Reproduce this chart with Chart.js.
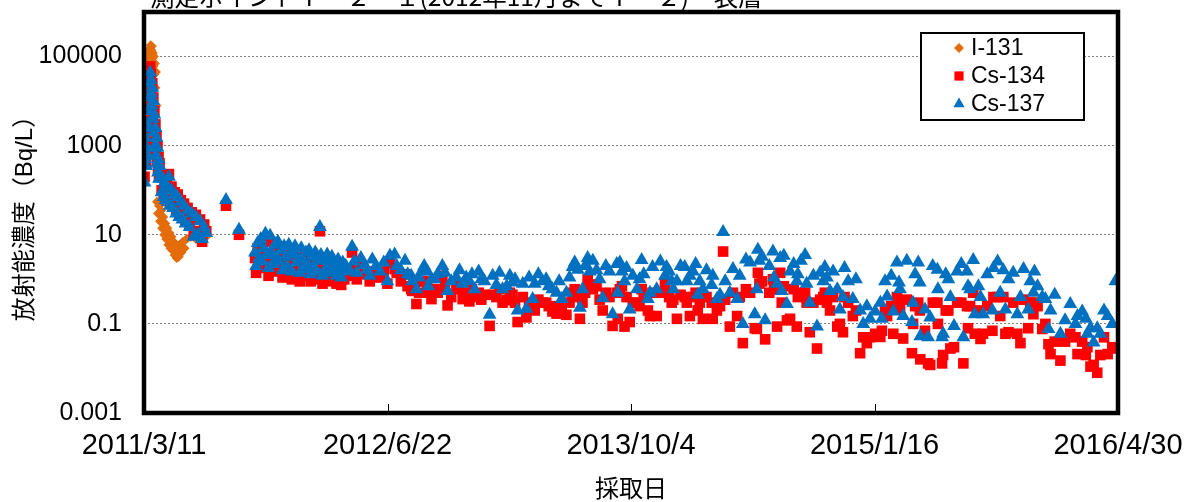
<!DOCTYPE html>
<html lang="ja">
<head>
<meta charset="utf-8">
<title>測定ポイント 表層</title>
<script src="https://cdn.jsdelivr.net/npm/chart.js"></script>
<style>
  html, body { margin: 0; padding: 0; background: #fff; }
  #wrap { width: 1184px; height: 502px; }
</style>
</head>
<body>
<div id="wrap"><canvas id="chart" width="1184" height="502"></canvas></div>
<script>
// chart text
const chartTitle = '測定ポイントＴ－２－１(2012年11月までＴ－２)　表層';
const yTitle = '放射能濃度（Bq/L）';
const xTitle = '採取日';

// x axis: days counted from 2011/3/11
const startDate = [2011, 3, 11];
const xTickStep = 469.25;
const xMaxDay = 1877;
const yTicks = [0.001, 0.1, 10, 1000, 100000];

// I-131 (Bq/L)
const i131Days = [1, 2, 3, 4, 5, 6, 7, 8, 9, 10, 11, 12, 13, 14, 15, 16, 17, 18, 19, 20,
  21, 22, 23, 24, 25, 27, 29, 31, 33, 35, 37, 39, 41, 43, 45, 47, 49, 51, 53, 55,
  57, 59, 61, 63, 65, 67, 69, 72, 75, 78, 82, 90, 100, 108, 116, 120];
const i131 = [5000, 15000, 35000, 8000, 60000, 25000, 100000, 50000, 130000, 80000,
  150000, 110000, 180000, 140000, 170000, 90000, 120000, 60000, 100000, 40000,
  70000, 20000, 45000, 8000, 55, 30, 45, 20, 35, 14, 25, 10, 18, 8,
  14, 6, 11, 5, 9, 4.5, 7, 3.5, 6, 3, 5, 3.2, 6, 4, 7, 5, 8, 9, 8, 9, 10, 9];

// Cs-134 / Cs-137 sampling days (last block: extra samples, not sorted)
const csDays = [1, 2, 3, 4, 5, 6, 7, 8, 9, 10, 11, 12, 13, 14, 15, 16, 17, 18, 19, 20,
  21, 22, 23, 24, 25, 26, 27, 28, 29, 30, 32, 34, 36, 38, 40, 42, 44, 46, 48, 50,
  53, 56, 59, 62, 65, 68, 71, 74, 77, 80, 84, 88, 92, 96, 100, 104, 108, 112, 116, 120,
  158, 183,
  214, 216, 219, 222, 225, 228, 231, 234, 237, 240, 243, 246, 249, 252, 255, 258, 261, 264, 267, 270,
  273, 276, 279, 282, 285, 288, 291, 294, 297, 300, 303, 306, 309, 312, 315, 318, 321, 324, 327, 330,
  333, 336, 339, 341, 344, 347, 350, 353, 356, 359, 362, 365, 368, 371, 374, 377, 380, 383, 386, 389,
  396, 401, 425, 430, 440, 469, 474, 483, 487, 515, 517, 525, 535, 546, 548, 554, 560, 575, 585, 602,
  614, 621, 627, 637, 656, 666, 679, 691, 699, 710, 720, 730, 737, 749, 753, 768, 787, 795, 805, 814,
  826, 836, 840, 845, 855, 859, 872, 884, 897, 903, 911, 913, 917, 921, 926, 936, 950, 959, 963, 971,
  975, 980, 988, 1004, 1007, 1017, 1020, 1027, 1042, 1046, 1052, 1058, 1067, 1071, 1077, 1094, 1096, 1104, 1110, 1116,
  1120, 1129, 1143, 1148, 1154, 1168, 1177, 1181, 1183, 1186, 1197, 1212, 1214, 1220, 1226, 1229, 1239, 1245, 1258, 1260,
  1274, 1277, 1283, 1297, 1309, 1312, 1316, 1322, 1328, 1336, 1341, 1347, 1357, 1366, 1380, 1386, 1393, 1399, 1409, 1419,
  1422, 1428, 1432, 1444, 1451, 1455, 1457, 1463, 1480, 1482, 1492, 1495, 1496, 1505, 1511, 1515, 1529, 1530, 1538, 1540,
  1550, 1554, 1561, 1567, 1579, 1586, 1588, 1592, 1598, 1601, 1608, 1612, 1617, 1635, 1637, 1650, 1656, 1660, 1666, 1683,
  1689, 1704, 1708, 1714, 1722, 1731, 1737, 1743, 1747, 1766, 1785, 1795, 1799, 1808, 1818, 1824, 1830, 1837, 1843, 1857,
  1866, 1872,
  405, 410, 418, 435, 447, 455, 462, 495, 503, 508, 530, 540, 566, 580, 592, 608, 632, 645, 650, 672,
  685, 705, 715, 742, 760, 775, 780, 800, 820, 830, 850, 865, 878, 890, 930, 942, 955, 995, 1012, 1034,
  1063, 1084, 1135, 1160, 1191, 1205, 1233, 1252, 1266, 1290, 1303, 1350, 1372, 1440, 1470, 1486, 1520, 1545, 1575, 1625,
  1645, 1675, 1695, 1716, 1755, 1775, 1815, 1850];

// Cs-134 (Bq/L)
const cs134 = [200, 700, 2000, 400, 1100, 3500, 800, 7000, 15000, 3000, 30000, 60000, 40000, 20000, 10000, 25000, 5000, 12000, 2500, 6000,
  1200, 3000, 700, 1700, 450, 1000, 300, 550, 200, 400, 220, 100, 200, 80, 170, 70, 140, 60, 230, 55,
  120, 45, 90, 35, 80, 28, 60, 25, 50, 20, 40, 17, 32, 10, 28, 12, 22, 7, 17, 12,
  45, 10,
  3.0, 1.4, 5.0, 2.2, 6.0, 1.8, 3.8, 8.0, 2.5, 1.2, 7.0, 3.0, 1.5, 4.5, 2.0, 5.5, 1.6, 3.2, 1.1, 4.0,
  2.4, 1.3, 4.5, 2.6, 1.0, 3.0, 4.2, 1.7, 2.2, 0.9, 3.7, 2.0, 1.2, 2.9, 1.5, 3.3, 0.9, 2.3, 1.4, 3.0,
  1.0, 1.8, 12, 2.5, 0.8, 2.0, 1.2, 2.6, 0.9, 1.8, 2.3, 1.1, 1.5, 0.8, 2.0, 1.2, 0.75, 1.7, 1.0, 1.3,
  1.2, 4.0, 1.4, 1.3, 1.5, 0.8, 2.3, 1.7, 1.4, 0.6, 0.55, 0.28, 0.9, 0.8, 0.5, 0.36, 0.6, 1.2, 0.26, 0.6,
  0.36, 0.5, 0.32, 0.4, 0.45, 0.09, 0.4, 0.3, 0.34, 0.45, 0.11, 0.4, 0.14, 0.25, 0.2, 0.3, 0.19, 0.17, 0.2, 0.16,
  0.5, 0.4, 0.13, 0.3, 1.0, 0.77, 0.7, 0.2, 0.4, 0.09, 0.5, 0.13, 0.6, 0.7, 0.087, 0.11, 0.3, 0.6, 0.4, 0.2,
  0.15, 0.5, 0.15, 0.8, 0.5, 0.3, 0.35, 0.13, 0.4, 0.3, 0.15, 0.4, 0.2, 0.3, 0.13, 0.3, 0.13, 0.2, 0.25, 4.2,
  0.35, 0.087, 0.15, 0.4, 0.037, 0.5, 0.08, 0.077, 1.4, 0.8, 0.045, 1.0, 0.6, 0.087, 1.4, 0.3, 0.12, 0.13, 0.087, 0.4,
  0.5, 0.3, 0.065, 0.028, 0.4, 0.5, 0.3, 0.2, 0.4, 0.087, 0.1, 0.065, 0.3, 0.15, 0.022, 0.05, 0.037, 0.05, 0.06, 0.051,
  0.07, 0.2, 0.15, 0.06, 0.4, 0.3, 0.21, 0.047, 0.022, 0.1, 0.3, 0.2, 0.016, 0.07, 0.013, 0.012, 0.3, 0.1, 0.013, 0.02,
  0.2, 0.028, 0.03, 0.3, 0.013, 0.25, 0.08, 0.25, 0.5, 0.06, 0.2, 0.046, 0.06, 0.07, 0.4, 0.15, 0.4, 0.06, 0.065, 0.06,
  0.037, 0.08, 0.3, 0.165, 0.25, 0.077, 0.1, 0.035, 0.021, 0.015, 0.06, 0.05, 0.021, 0.04, 0.03, 0.011, 0.012, 0.008, 0.02, 0.021,
  0.03, 0.028,
  1.8, 1.0, 2.2, 0.9, 1.3, 1.1, 1.5, 0.9, 1.3, 0.7, 0.5, 0.9, 0.5, 0.7, 0.4, 0.7, 0.6, 0.5, 0.35, 0.45,
  0.6, 0.5, 0.3, 0.3, 0.35, 0.3, 0.25, 0.25, 0.3, 0.6, 0.5, 0.6, 0.35, 0.5, 0.4, 0.3, 0.25, 0.5, 0.4, 0.45,
  0.5, 0.4, 0.5, 0.6, 0.9, 0.5, 0.7, 0.6, 0.5, 0.3, 0.35, 0.4, 0.2, 0.25, 0.35, 0.25, 0.3, 0.2, 0.3, 0.25,
  0.4, 0.3, 0.35, 0.3, 0.04, 0.04, 0.02, 0.05];

// Cs-137 (Bq/L)
const cs137 = [150, 500, 1500, 350, 900, 3000, 600, 6000, 12000, 2500, 25000, 44000, 30000, 15000, 8000, 20000, 4000, 10000, 2000, 5000,
  1000, 2500, 600, 1500, 400, 900, 250, 500, 180, 350, 200, 90, 180, 70, 150, 60, 120, 55, 200, 45,
  100, 40, 80, 30, 70, 25, 55, 22, 45, 18, 35, 15, 30, 9, 25, 10, 20, 8, 15, 11,
  60, 13,
  4.0, 2.0, 6.5, 3.0, 8.0, 2.5, 5.0, 10.5, 3.5, 1.8, 9.5, 4.0, 2.2, 6.0, 3.0, 7.0, 2.5, 4.5, 1.6, 5.5,
  3.2, 2.0, 6.0, 3.6, 1.5, 4.2, 5.5, 2.4, 3.0, 1.4, 5.0, 2.8, 1.7, 4.0, 2.2, 4.5, 1.3, 3.2, 2.0, 4.0,
  1.5, 2.6, 15, 3.5, 1.2, 2.8, 1.8, 3.6, 1.4, 2.5, 3.2, 1.6, 2.2, 1.2, 2.8, 1.8, 1.1, 2.4, 1.5, 2.0,
  1.6, 5.4, 2.1, 1.65, 2.8, 0.9, 3.4, 3.6, 2.0, 1.2, 0.9, 0.6, 1.5, 1.5, 0.7, 1.0, 1.0, 2.0, 0.55, 1.1,
  0.8, 1.1, 0.9, 0.6, 0.9, 0.16, 0.75, 0.6, 0.7, 0.85, 0.2, 0.8, 0.22, 0.36, 0.8, 0.9, 0.6, 0.5, 0.36, 0.5,
  1.9, 1.65, 0.23, 0.6, 3.0, 1.5, 1.6, 0.38, 1.5, 0.165, 2.2, 0.5, 2.4, 1.5, 0.9, 0.21, 0.6, 2.7, 1.3, 0.36,
  0.5, 1.9, 0.6, 1.2, 1.9, 0.9, 0.6, 0.9, 1.9, 0.9, 1.2, 1.5, 0.45, 0.9, 0.6, 0.75, 1.2, 0.36, 0.45, 11.5,
  0.9, 0.5, 0.36, 1.2, 0.1, 2.4, 0.165, 0.6, 4.6, 2.6, 0.12, 4.2, 1.1, 0.8, 3.0, 0.55, 0.28, 1.5, 0.9, 1.3,
  3.5, 0.8, 0.3, 0.087, 0.9, 1.9, 1.1, 0.55, 1.5, 0.6, 0.21, 0.4, 0.9, 0.36, 0.2, 0.1, 0.25, 0.13, 0.19, 0.3,
  0.13, 0.9, 0.41, 0.19, 2.4, 0.85, 0.6, 0.15, 0.11, 0.3, 2.4, 0.85, 0.053, 0.21, 0.05, 0.14, 1.65, 0.6, 0.05, 0.06,
  1.0, 0.4, 0.09, 1.5, 0.05, 1.5, 0.7, 0.6, 2.7, 0.165, 0.7, 0.4, 0.165, 0.2, 1.8, 0.5, 1.6, 0.21, 1.0, 0.165,
  0.4, 0.21, 0.9, 0.5, 0.7, 0.4, 0.36, 0.077, 0.2, 0.06, 0.28, 0.1, 0.15, 0.19, 0.06, 0.08, 0.038, 0.08, 0.06, 0.15,
  0.1, 0.9,
  2.5, 1.4, 3.0, 1.2, 2.0, 1.5, 2.4, 1.6, 2.6, 1.3, 1.1, 2.0, 1.3, 1.4, 0.9, 1.6, 1.3, 1.5, 1.0, 1.2,
  1.4, 1.2, 1.0, 1.1, 1.3, 1.0, 0.7, 0.9, 1.1, 2.4, 2.0, 2.6, 1.0, 2.0, 1.8, 1.2, 1.0, 2.5, 1.5, 2.0,
  2.2, 1.6, 1.7, 2.8, 3.2, 2.0, 3.4, 2.2, 2.6, 1.2, 1.4, 1.8, 1.0, 1.2, 2.6, 1.3, 2.0, 1.3, 2.2, 1.3,
  2.5, 1.4, 1.7, 1.5, 0.45, 0.12, 0.13, 0.2];

function toPoints(days, vals) {
  return days.map((d, i) => ({ x: d, y: vals[i] }));
}

function dayLabel(d) {
  const dt = new Date(startDate[0], startDate[1] - 1, startDate[2] + Math.floor(d + 0.001));
  return dt.getFullYear() + '/' + (dt.getMonth() + 1) + '/' + dt.getDate();
}

// frame round the plot area plus the small inner tick marks on the date axis
const framePlugin = {
  id: 'frame',
  afterDatasetsDraw(chart) {
    const { ctx, chartArea: a, scales: { x } } = chart;
    ctx.save();
    ctx.strokeStyle = '#000';
    ctx.lineWidth = 1;
    x.ticks.forEach(t => {
      const px = Math.round(x.getPixelForValue(t.value)) + 0.5;
      ctx.beginPath();
      ctx.moveTo(px, a.bottom);
      ctx.lineTo(px, a.bottom - 9);
      ctx.stroke();
    });
    ctx.lineWidth = 4.5;
    ctx.strokeRect(a.left, a.top, a.right - a.left, a.bottom - a.top);
    ctx.restore();
  }
};

// boxed legend inside the top right corner, plus the (clipped) title
const boxLegendPlugin = {
  id: 'boxLegend',
  afterDraw(chart) {
    const { ctx, chartArea: a } = chart;
    const w = 163, h = 87;
    const left = a.right - 34 - w, top = a.top + 21;
    ctx.save();
    ctx.fillStyle = '#fff';
    ctx.fillRect(left, top, w, h);
    ctx.lineWidth = 2;
    ctx.strokeStyle = '#000';
    ctx.strokeRect(left, top, w, h);
    ctx.font = '23px "Liberation Sans", Arial, sans-serif';
    ctx.textBaseline = 'middle';
    ctx.textAlign = 'left';
    chart.data.datasets.forEach((ds, i) => {
      const cy = top + 15 + i * 28;
      ctx.fillStyle = ds.backgroundColor;
      Chart.helpers.drawPoint(ctx, { pointStyle: ds.pointStyle, radius: ds.legendRadius, borderWidth: 0, rotation: 0 }, left + 38, cy);
      ctx.fillStyle = '#000';
      ctx.fillText(ds.label, left + 50, cy + 1);
    });

    ctx.font = '24.5px "Noto Sans CJK JP", sans-serif';
    ctx.textBaseline = 'alphabetic';
    ctx.fillText(chartTitle, 150, 6);
    ctx.restore();
  }
};

new Chart(document.getElementById('chart'), {
  type: 'scatter',
  data: {
    datasets: [
      {
        label: 'I-131',
        data: toPoints(i131Days, i131),
        pointStyle: 'rectRot',
        pointRadius: 5,
        legendRadius: 5,
        backgroundColor: '#E46C0A',
        borderColor: '#E46C0A',
        borderWidth: 0,
        order: 3
      },
      {
        label: 'Cs-134',
        data: toPoints(csDays, cs134),
        pointStyle: 'rect',
        pointRadius: 7.5,
        legendRadius: 6.5,
        backgroundColor: '#FF0000',
        borderColor: '#FF0000',
        borderWidth: 0,
        order: 2
      },
      {
        label: 'Cs-137',
        data: toPoints(csDays, cs137),
        pointStyle: 'triangle',
        pointRadius: 8,
        legendRadius: 6.5,
        backgroundColor: '#0070C0',
        borderColor: '#0070C0',
        borderWidth: 0,
        order: 1
      }
    ]
  },
  options: {
    responsive: false,
    animation: false,
    layout: { padding: { left: 0, right: 66, top: 12, bottom: 0 } },
    plugins: {
      legend: { display: false },
      tooltip: { enabled: false },
      title: { display: false }
    },
    scales: {
      x: {
        type: 'linear',
        min: 0,
        max: xMaxDay,
        afterFit: (scale) => {
          scale.height = 89;
          scale.paddingLeft = 0;
          scale.paddingRight = 0;
        },
        grid: { display: false },
        border: { display: false },
        ticks: {
          stepSize: xTickStep,
          autoSkip: false,
          maxRotation: 0,
          padding: 8,
          color: '#000',
          font: { family: '"Liberation Sans", Arial, sans-serif', size: 29 },
          callback: (v) => dayLabel(v)
        },
        title: {
          display: true,
          text: xTitle,
          color: '#000',
          padding: { top: 0, bottom: 0 },
          font: { family: '"Noto Sans CJK JP", sans-serif', size: 24 }
        }
      },
      y: {
        type: 'logarithmic',
        min: 0.001,
        max: 1000000,
        afterFit: (scale) => {
          scale.width = 144;
          scale.paddingTop = 0;
          scale.paddingBottom = 0;
        },
        afterBuildTicks: (scale) => { scale.ticks = yTicks.map(v => ({ value: v })); },
        grid: { color: '#808080', lineWidth: 1, drawTicks: false },
        border: { display: false, dash: [2, 2] },
        ticks: {
          padding: 22,
          color: '#000',
          font: { family: '"Liberation Sans", Arial, sans-serif', size: 25 },
          callback: (v) => String(v)
        },
        title: {
          display: true,
          text: yTitle,
          color: '#000',
          padding: { top: 11, bottom: 0 },
          font: { family: '"Liberation Sans", "Noto Sans CJK JP", sans-serif', size: 24 }
        }
      }
    }
  },
  plugins: [framePlugin, boxLegendPlugin]
});
</script>
</body>
</html>
